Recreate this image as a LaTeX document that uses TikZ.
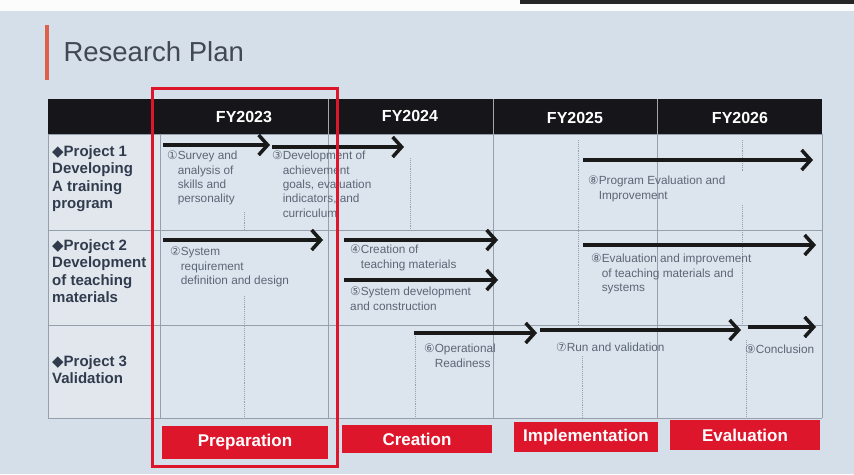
\documentclass[tikz,border=0pt]{standalone}
\usepackage{fontspec}
\setmainfont{Liberation Sans}
\newfontfamily\symfont{DejaVu Sans}
\usetikzlibrary{arrows.meta}

\definecolor{slidebg}{RGB}{212,223,233}
\definecolor{cellbg}{RGB}{220,229,237}
\definecolor{leftbg}{RGB}{226,231,237}
\definecolor{headbg}{RGB}{22,22,26}
\definecolor{planred}{RGB}{222,22,44}
\definecolor{titlebar}{RGB}{222,96,76}
\definecolor{gridgray}{RGB}{150,160,172}
\definecolor{notegray}{RGB}{92,102,118}
\definecolor{projblue}{RGB}{48,60,78}
\definecolor{titlegray}{RGB}{66,72,84}

\newcommand{\cn}[1]{{\symfont #1}}
\newcommand{\ind}{\hphantom{\cn{①}}}

\begin{document}
\begin{tikzpicture}[x=1pt, y=-1pt,
    yearhead/.style={font=\bfseries\fontsize{16}{16}\selectfont, text=white},
    projlabel/.style={anchor=north west, align=left, inner sep=0pt,
      font=\bfseries\fontsize{15}{17.5}\selectfont, text=projblue},
    note/.style={anchor=north west, align=left, inner sep=0pt,
      font=\fontsize{11.8}{14.3}\selectfont, text=notegray},
    phasebox/.style={fill=planred, text=white, inner sep=0pt,
      font=\bfseries\fontsize{17}{17}\selectfont},
    task/.style={-{Straight Barb[length=9pt,width=20pt,line width=3.5pt]},
      line width=4pt, black!90},
    halfyear/.style={densely dotted, gridgray, line width=0.9pt},
    colline/.style={gridgray, line width=0.6pt}]
  \useasboundingbox (0,0) rectangle (854,474);
  \fill[slidebg] (0,0) rectangle (854,474);
  \fill[white!92!slidebg] (0,0) rectangle (854,11);
  \fill[black!85] (520,0) rectangle (854,4);

  % title
  \fill[titlebar] (45,25) rectangle (49,80);
  \node[anchor=west, text=titlegray, font=\fontsize{27.5}{27.5}\selectfont] (title) at (60,52) {Research Plan};

  % table
  \fill[headbg] (48,99) rectangle (822,134);
  \fill[leftbg] (48,134) rectangle (160,418);
  \fill[cellbg] (160,134) rectangle (822,418);
  \foreach \y in {134,230,325,418}
    \draw[colline] (48,\y) -- (822,\y);
  \foreach \x in {160,328,493,657,822}
    \draw[colline] (\x,134) -- (\x,418);
  \foreach \x in {328,493,657}
    \draw[gray!70, line width=0.6pt] (\x,99) -- (\x,134);
  \draw[colline] (48,134) -- (48,418);

  \node[yearhead] (fy23) at (244,117) {FY2023};
  \node[yearhead] (fy24) at (410,116) {FY2024};
  \node[yearhead] (fy25) at (575,118) {FY2025};
  \node[yearhead] (fy26) at (740,118) {FY2026};

  % half-year marks
  \draw[halfyear] (244,212) -- (244,230) (244,296) -- (244,418);
  \draw[halfyear] (410,158) -- (410,230) (415,336) -- (415,418);
  \draw[halfyear] (578,140) -- (578,325) (582,356) -- (582,418);
  \draw[halfyear] (742,140) -- (742,172) (742,205) -- (742,325) (746,340) -- (746,418);

  % projects
  \node[projlabel] (proj1) at (52,145) {\cn{◆}Project 1\\Developing\\A training\\program};
  \node[projlabel] (proj2) at (52,239) {\cn{◆}Project 2\\Development\\of teaching\\materials};
  \node[projlabel] (proj3) at (52,355) {\cn{◆}Project 3\\Validation};

  % tasks
  \coordinate (a1s) at (163,145); \coordinate (a1e) at (270,145);
  \coordinate (a3s) at (272,147); \coordinate (a3e) at (404,147);
  \coordinate (a8s) at (583,160); \coordinate (a8e) at (813,160);
  \coordinate (a2s) at (163,240); \coordinate (a2e) at (323,240);
  \coordinate (a4s) at (344,240); \coordinate (a4e) at (498,240);
  \coordinate (a5s) at (344,280); \coordinate (a5e) at (498,280);
  \coordinate (b8s) at (583,245); \coordinate (b8e) at (816,245);
  \coordinate (a6s) at (414,333); \coordinate (a6e) at (537,333);
  \coordinate (a7s) at (540,330); \coordinate (a7e) at (741,330);
  \coordinate (a9s) at (748,327); \coordinate (a9e) at (816,327);
  \foreach \s/\e in {a1s/a1e,a3s/a3e,a8s/a8e,a2s/a2e,a4s/a4e,a5s/a5e,b8s/b8e,a6s/a6e,a7s/a7e,a9s/a9e}
    \draw[task] (\s) -- (\e);

  \node[note] (n1) at (167,151) {\cn{①}Survey and\\\ind analysis of\\\ind skills and\\\ind personality};
  \node[note] (n3) at (272,151) {\cn{③}Development of\\\ind achievement\\\ind goals, evaluation\\\ind indicators, and\\\ind curriculum};
  \node[note] (n8) at (588,176) {\cn{⑧}Program Evaluation and\\\ind Improvement};
  \node[note] (n2) at (170,247) {\cn{②}System\\\ind requirement\\\ind definition and design};
  \node[note] (n4) at (350,245) {\cn{④}Creation of\\\ind teaching materials};
  \node[note] (n5) at (350,287) {\cn{⑤}System development\\and construction};
  \node[note] (n6b) at (591,254) {\cn{⑧}Evaluation and improvement\\\ind of teaching materials and\\\ind systems};
  \node[note] (n6) at (424,344) {\cn{⑥}Operational\\\ind Readiness};
  \node[note] (n7) at (556,343) {\cn{⑦}Run and validation};
  \node[note] (n9) at (745,345) {\cn{⑨}Conclusion};

  % phases
  \node[phasebox, minimum width=166pt, minimum height=33pt] (prep) at (245,442) {Preparation};
  \node[phasebox, minimum width=150pt, minimum height=28pt] (crea) at (417,439) {Creation};
  \node[phasebox, minimum width=144pt, minimum height=30pt] (impl) at (586,437) {Implementation};
  \node[phasebox, minimum width=150pt, minimum height=30pt] (eval) at (745,435) {Evaluation};

  \draw[planred, line width=3pt] (152,88) rectangle (337,466);
\end{tikzpicture}
\end{document}
